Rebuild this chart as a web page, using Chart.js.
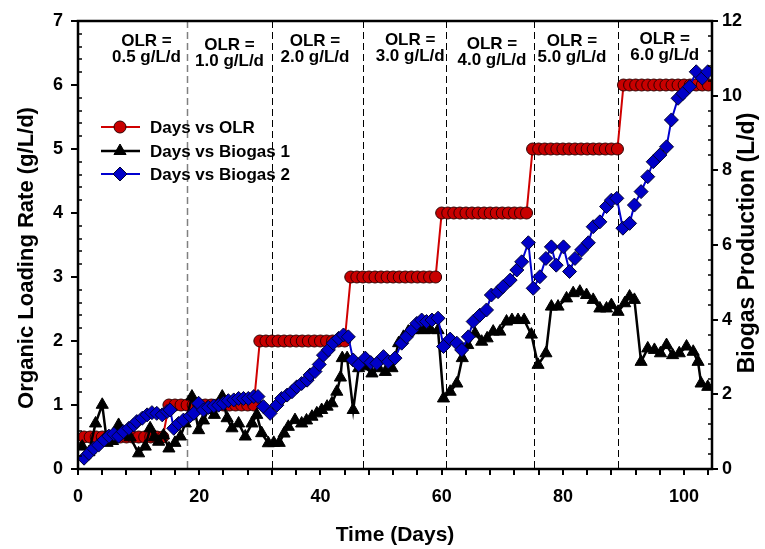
<!DOCTYPE html>
<html>
<head>
<meta charset="utf-8">
<script src="https://cdn.jsdelivr.net/npm/chart.js@4.4.0/dist/chart.umd.min.js"></script>
<style>
  html, body { margin: 0; padding: 0; background: #fff; }
  #wrap { width: 765px; height: 549px; }
</style>
</head>
<body>
<div id="wrap"><canvas id="biogasChart" width="765" height="549"></canvas></div>
<script>
// Days vs OLR (g/L/d), one reading per day
const olrDays = [1, 2, 3, 4, 5, 6, 7, 8, 9, 10, 11, 12, 13, 14, 15, 16, 17, 18, 19, 20,
  21, 22, 23, 24, 25, 26, 27, 28, 29, 30, 31, 32, 33, 34, 35, 36, 37, 38, 39, 40,
  41, 42, 43, 44, 45, 46, 47, 48, 49, 50, 51, 52, 53, 54, 55, 56, 57, 58, 59, 60,
  61, 62, 63, 64, 65, 66, 67, 68, 69, 70, 71, 72, 73, 74, 75, 76, 77, 78, 79, 80,
  81, 82, 83, 84, 85, 86, 87, 88, 89, 90, 91, 92, 93, 94, 95, 96, 97, 98, 99, 100,
  101, 102, 103, 104];
const olr = [0.5, 0.5, 0.5, 0.5, 0.5, 0.5, 0.5, 0.5, 0.5, 0.5, 0.5, 0.5, 0.5, 0.5,
  1, 1, 1, 1, 1, 1, 1, 1, 1, 1, 1, 1, 1, 1, 1,
  2, 2, 2, 2, 2, 2, 2, 2, 2, 2, 2, 2, 2, 2, 2,
  3, 3, 3, 3, 3, 3, 3, 3, 3, 3, 3, 3, 3, 3, 3,
  4, 4, 4, 4, 4, 4, 4, 4, 4, 4, 4, 4, 4, 4, 4,
  5, 5, 5, 5, 5, 5, 5, 5, 5, 5, 5, 5, 5, 5, 5,
  6, 6, 6, 6, 6, 6, 6, 6, 6, 6, 6, 6, 6, 6, 6];

// Days vs Biogas 1 (L/d)
const bio1Days = [0.7, 1.8, 2.9, 4.0, 4.8, 5.7, 6.7, 7.6, 8.6, 10.0, 11.1, 11.9, 12.6, 13.3, 14.1,
  15.0, 16.0, 16.9, 17.7, 18.8, 19.9, 20.7, 21.5, 22.5, 23.8, 24.6, 25.4, 26.5, 27.6, 28.7,
  29.5, 30.3, 31.4, 32.3, 33.2, 34.0, 34.7, 35.8, 36.9, 37.7, 38.6, 39.4, 40.2, 41.1, 41.9,
  42.7, 43.3, 43.6, 44.4, 45.4, 46.3, 47.2, 48.5, 49.6, 50.7, 51.8, 52.9, 53.7, 54.5, 55.3,
  56.2, 57.1, 58.2, 59.4, 60.3, 61.4, 62.5, 63.4, 64.3, 65.5, 66.6, 67.5, 68.5, 69.6, 70.7,
  71.6, 72.6, 73.6, 74.8, 75.9, 77.2, 78.1, 79.2, 80.6, 81.7, 82.8, 83.9, 85.0, 86.1, 87.2,
  88.0, 89.1, 90.2, 91.0, 91.8, 92.9, 94.0, 95.1, 96.1, 97.1, 98.1, 99.2, 100.4, 101.5, 102.3,
  102.8, 103.9];
const bio1 = [0.6, 0.45, 1.22, 1.72, 0.7, 0.75, 1.18, 0.9, 0.85, 0.42, 0.6, 1.09, 0.85, 0.73, 0.9,
  0.55, 0.7, 0.87, 1.22, 1.94, 1.04, 1.3, 1.58, 1.45, 1.94, 1.36, 1.09, 1.22, 0.87, 1.22,
  1.45, 0.96, 0.69, 0.7, 0.7, 0.95, 1.13, 1.31, 1.22, 1.3, 1.4, 1.49, 1.58, 1.67, 1.76,
  2.07, 2.45, 2.97, 2.97, 1.58, 2.7, 2.75, 2.56, 2.7, 2.6, 2.7, 3.37, 3.54, 3.68, 3.72,
  3.72, 3.72, 3.72, 3.72, 1.89, 2.07, 2.29, 2.97, 3.32, 3.63, 3.41, 3.5, 3.68, 3.68, 3.95,
  3.99, 3.99, 3.99, 3.6, 2.79, 3.1, 4.35, 4.35, 4.57, 4.71, 4.75, 4.66, 4.53, 4.3, 4.3,
  4.39, 4.21, 4.44, 4.62, 4.53, 2.87, 3.23, 3.19, 3.1, 3.32, 3.05, 3.1, 3.28, 3.14, 2.87,
  2.29, 2.2];

// Days vs Biogas 2 (L/d)
const bio2Days = [1.0, 1.8, 2.6, 3.4, 4.3, 5.1, 5.9, 6.7, 7.5, 8.4, 9.2, 9.7, 10.6, 11.4, 12.2,
  13.0, 13.9, 14.7, 15.2, 15.8, 16.6, 17.4, 18.5, 19.1, 19.9, 20.7, 21.5, 22.4, 23.2, 24.0,
  24.8, 25.7, 26.5, 27.3, 28.1, 29.0, 29.7, 30.6, 31.7, 32.8, 33.6, 34.5, 35.3, 36.1, 36.9,
  37.8, 38.3, 39.1, 39.8, 40.5, 41.3, 42.1, 43.0, 43.8, 44.6, 45.4, 46.3, 47.4, 48.3, 49.3,
  50.4, 51.2, 52.3, 53.4, 54.2, 55.1, 55.9, 56.7, 57.5, 58.4, 59.4, 60.3, 61.4, 62.5, 63.3,
  64.4, 65.2, 66.3, 67.4, 68.2, 69.3, 70.1, 71.3, 72.4, 73.2, 74.3, 75.1, 76.2, 77.2, 78.1,
  78.9, 80.1, 81.1, 82.0, 83.1, 84.2, 85.0, 86.1, 87.2, 88.0, 88.9, 89.9, 91.0, 91.8, 92.9,
  94.0, 94.9, 96.0, 97.1, 97.9, 99.0, 99.8, 100.9, 102.0, 103.0, 103.9];
const bio2 = [0.29, 0.42, 0.55, 0.64, 0.78, 0.88, 0.94, 0.88, 1.0, 1.09, 1.18, 1.27, 1.36, 1.45, 1.51,
  1.49, 1.45, 1.54, 1.58, 1.09, 1.22, 1.31, 1.42, 1.49, 1.76, 1.58, 1.65, 1.69, 1.71, 1.76,
  1.83, 1.85, 1.89, 1.89, 1.89, 1.94, 1.94, 1.67, 1.49, 1.71, 1.89, 1.98, 2.07, 2.2, 2.29,
  2.38, 2.52, 2.61, 2.8, 3.05, 3.19, 3.37, 3.5, 3.59, 3.54, 2.92, 2.79, 2.97, 2.85, 2.83,
  3.01, 2.87, 2.97, 3.37, 3.54, 3.72, 3.9, 3.99, 3.95, 3.99, 4.04, 3.28, 3.48, 3.37, 3.19,
  3.54, 3.95, 4.12, 4.26, 4.66, 4.75, 4.88, 5.06, 5.33, 5.55, 6.06, 4.84, 5.15, 5.64, 5.95,
  5.46, 5.95, 5.29, 5.64, 5.87, 6.06, 6.49, 6.62, 7.03, 7.2, 7.25, 6.45, 6.58, 7.07, 7.43,
  7.83, 8.23, 8.41, 8.63, 9.35, 9.93, 10.06, 10.24, 10.64, 10.47, 10.64];

// OLR change days (dashed lines) and the period labels
const boundaries = [18, 32, 47, 60.7, 75.3, 89.1];
const periodLabels = ['0.5 g/L/d', '1.0 g/L/d', '2.0 g/L/d', '3.0 g/L/d', '4.0 g/L/d', '5.0 g/L/d', '6.0 g/L/d'];
const xTicks = [0, 20, 40, 60, 80, 100];

// where the period labels sit (day, pixel row of the second line)
const labelAt = [[11.3, 57], [25.0, 61], [39.1, 57], [54.8, 56], [68.3, 60], [81.5, 57], [96.8, 55]];

const pts = (xs, ys) => xs.map((d, i) => ({x: d, y: ys[i]}));
const FAMILY = '"Liberation Sans", Arial, sans-serif';

const decor = {
  id: 'decor',
  beforeDatasetsDraw(chart) {
    const {ctx, chartArea: a, scales: {x}} = chart;
    ctx.save();
    ctx.setLineDash([7, 4]);
    boundaries.forEach((d, i) => {
      const px = Math.round(x.getPixelForValue(d)) + 0.5;
      ctx.strokeStyle = i === 0 ? '#808080' : '#000';
      ctx.lineWidth = i === 0 ? 1.5 : 1;
      ctx.beginPath();
      ctx.moveTo(px, a.top);
      ctx.lineTo(px, a.bottom);
      ctx.stroke();
    });
    ctx.restore();
  },
  afterDraw(chart) {
    const {ctx, chartArea: a, scales: {x, y, y2}} = chart;
    ctx.save();
    // minor ticks, inside the frame
    ctx.strokeStyle = '#000';
    ctx.lineWidth = 1.5;
    for (let v = 0.2; v < 7; v += 0.2) {
      if (Math.abs(v - Math.round(v)) < 0.01) continue;
      const py = Math.round(y.getPixelForValue(v));
      ctx.beginPath(); ctx.moveTo(a.left, py); ctx.lineTo(a.left + 4, py); ctx.stroke();
    }
    for (let v = 0.4; v < 12; v += 0.4) {
      if (Math.abs(v / 2 - Math.round(v / 2)) < 0.01) continue;
      const py = Math.round(y2.getPixelForValue(v));
      ctx.beginPath(); ctx.moveTo(a.right - 4, py); ctx.lineTo(a.right, py); ctx.stroke();
    }
    // frame
    ctx.lineWidth = 2.5;
    ctx.strokeRect(a.left, a.top, a.right - a.left, a.bottom - a.top);

    // vertical axis titles, both reading upwards
    ctx.fillStyle = '#000';
    ctx.textAlign = 'center';
    ctx.textBaseline = 'middle';
    ctx.save();
    ctx.translate(27, 258);
    ctx.rotate(-Math.PI / 2);
    ctx.font = 'bold 22px ' + FAMILY;
    ctx.fillText('Organic Loading Rate (g/L/d)', 0, 0);
    ctx.restore();
    ctx.save();
    ctx.translate(748, 243);
    ctx.rotate(-Math.PI / 2);
    ctx.font = 'bold 23px ' + FAMILY;
    ctx.fillText('Biogas Production (L/d)', 0, 0);
    ctx.restore();

    // period labels
    ctx.font = 'bold 17px ' + FAMILY;
    periodLabels.forEach((t, i) => {
      const px = x.getPixelForValue(labelAt[i][0]);
      ctx.fillText('OLR =', px, labelAt[i][1] - 16);
      ctx.fillText(t, px, labelAt[i][1]);
    });

    // legend
    const rows = [127, 151, 174];
    chart.data.datasets.forEach((ds, i) => {
      const ly = rows[i];
      ctx.strokeStyle = ds.borderColor;
      ctx.lineWidth = ds.borderWidth;
      ctx.beginPath(); ctx.moveTo(101, ly); ctx.lineTo(140, ly); ctx.stroke();
      ctx.fillStyle = ds.pointBackgroundColor;
      ctx.strokeStyle = ds.pointBorderColor;
      ctx.lineWidth = ds.pointBorderWidth;
      Chart.helpers.drawPoint(ctx, {pointStyle: ds.pointStyle, radius: ds.pointRadius, rotation: 0, borderWidth: ds.pointBorderWidth}, 120, ly);
      ctx.fillStyle = '#000';
      ctx.textAlign = 'left';
      ctx.fillText(ds.label, 150, ly + 1);
    });
    ctx.restore();
  }
};

const tickFont = {family: FAMILY, size: 18, weight: 'bold'};

new Chart(document.getElementById('biogasChart'), {
  type: 'line',
  data: {
    datasets: [{
      label: 'Days vs OLR',
      data: pts(olrDays, olr),
      yAxisID: 'y',
      order: 2,
      borderColor: '#D00000',
      borderWidth: 2,
      pointStyle: 'circle',
      pointRadius: 6,
      pointBackgroundColor: '#C80000',
      pointBorderColor: '#300000',
      pointBorderWidth: 1
    }, {
      label: 'Days vs Biogas 1',
      data: pts(bio1Days, bio1),
      yAxisID: 'y2',
      order: 1,
      borderColor: '#000000',
      borderWidth: 2.5,
      pointStyle: 'triangle',
      pointRadius: 7,
      pointBackgroundColor: '#000000',
      pointBorderColor: '#000000',
      pointBorderWidth: 1
    }, {
      label: 'Days vs Biogas 2',
      data: pts(bio2Days, bio2),
      yAxisID: 'y2',
      order: 0,
      borderColor: '#0000D0',
      borderWidth: 2,
      pointStyle: 'rectRot',
      pointRadius: 7,
      pointBackgroundColor: '#0000C8',
      pointBorderColor: '#000030',
      pointBorderWidth: 1
    }]
  },
  options: {
    responsive: false,
    animation: false,
    devicePixelRatio: 1,
    events: [],
    layout: {padding: {top: 21, left: 0, right: 0, bottom: 0}},
    plugins: {legend: {display: false}, tooltip: {enabled: false}},
    elements: {line: {tension: 0}},
    scales: {
      x: {
        type: 'linear', min: 0, max: 104.6,
        afterFit: s => { s.height = 80; },
        border: {display: false},
        grid: {drawOnChartArea: false, tickLength: 6, color: '#000', lineWidth: 2},
        ticks: {
          stepSize: 4, autoSkip: false, includeBounds: false, maxRotation: 0,
          color: '#000', font: tickFont, padding: 11,
          callback: v => xTicks.includes(v) ? String(v) : ''
        },
        title: {display: true, text: 'Time (Days)', color: '#000',
          font: {family: FAMILY, size: 21, weight: 'bold'}, padding: {top: 0, bottom: 1}}
      },
      y: {
        position: 'left', min: 0, max: 7,
        afterFit: s => { s.width = 78; },
        border: {display: false},
        grid: {drawOnChartArea: false, tickLength: 7, color: '#000', lineWidth: 2},
        ticks: {stepSize: 1, color: '#000', font: tickFont, padding: 8}
      },
      y2: {
        position: 'right', min: 0, max: 12,
        afterFit: s => { s.width = 53; },
        border: {display: false},
        grid: {drawOnChartArea: false, tickLength: 6, color: '#000', lineWidth: 2},
        ticks: {stepSize: 2, color: '#000', font: tickFont, padding: 4}
      }
    }
  },
  plugins: [decor]
});
</script>
</body>
</html>
